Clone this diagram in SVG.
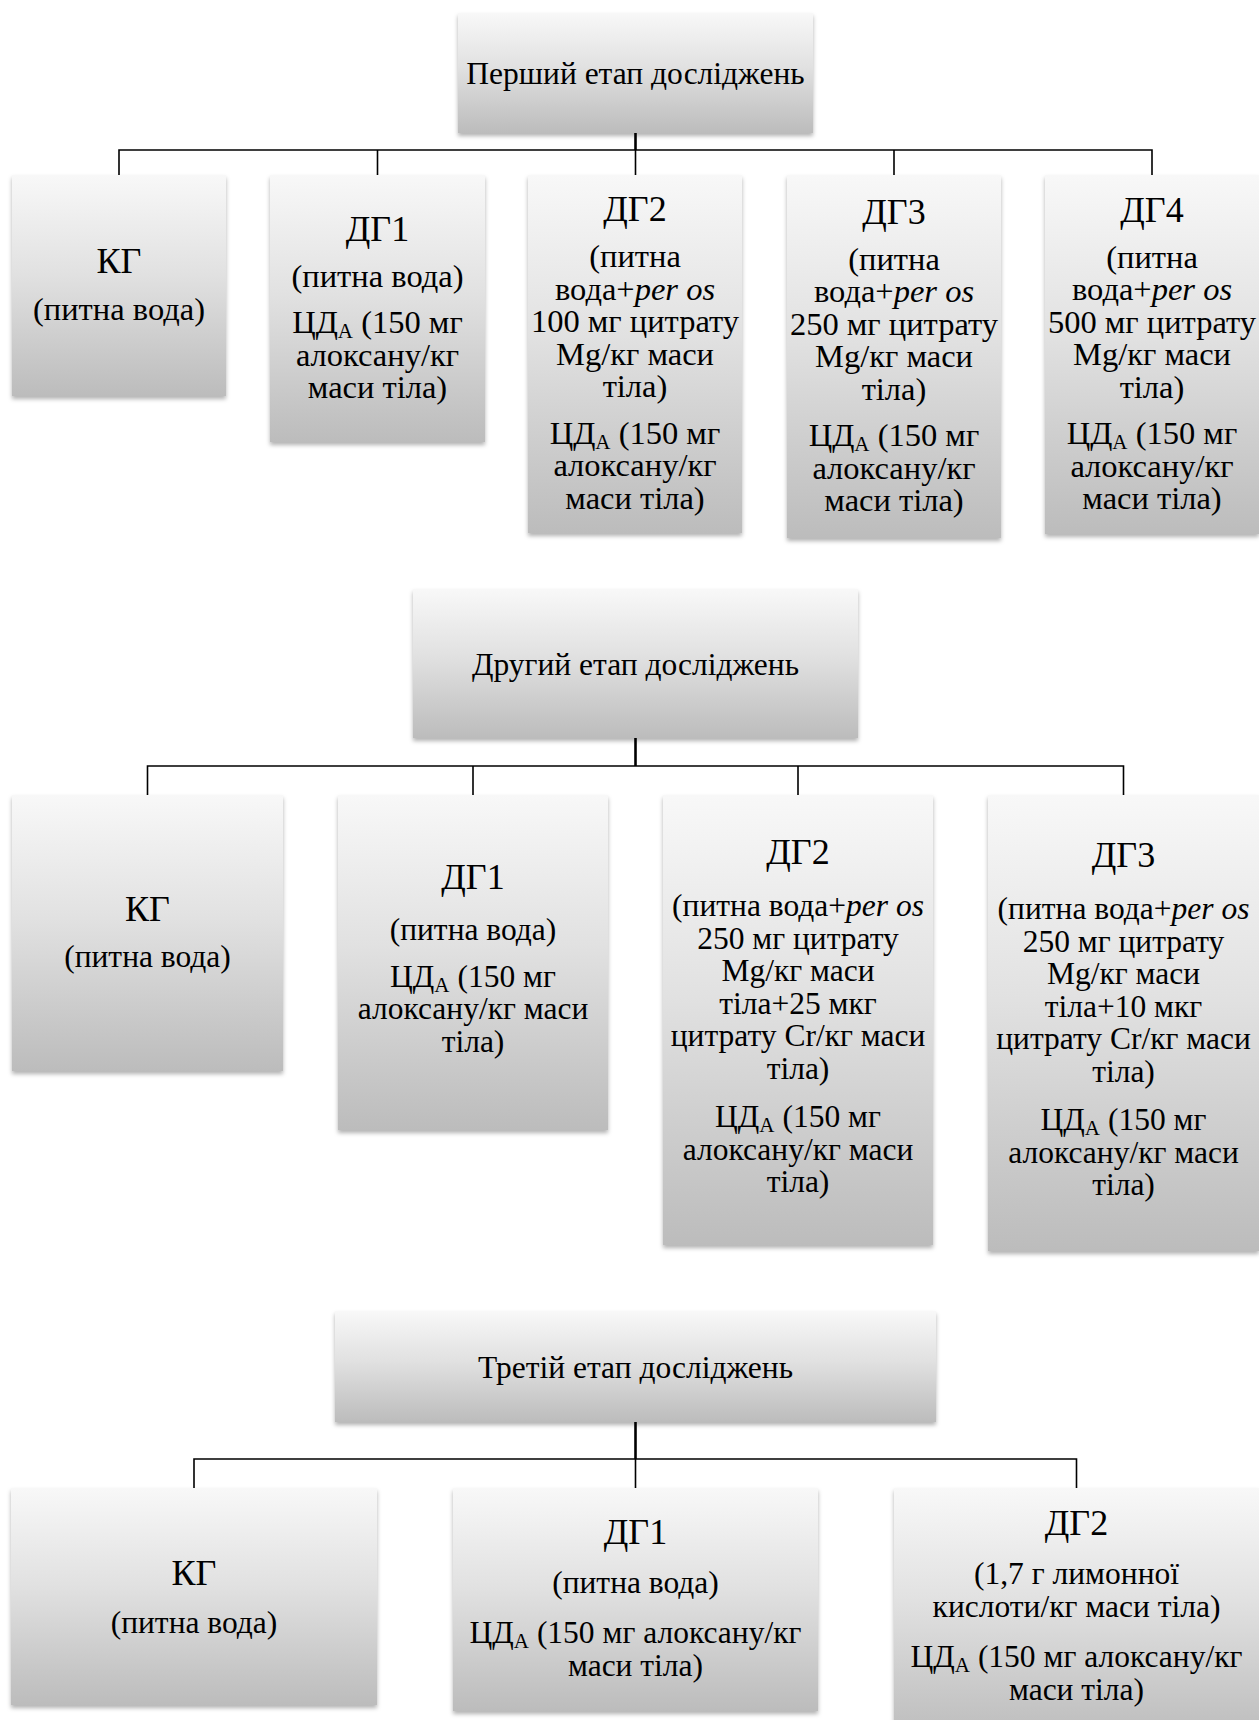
<svg xmlns="http://www.w3.org/2000/svg" width="1259" height="1720" viewBox="0 0 1259 1720">
<defs>
<linearGradient id="g" x1="0" y1="0" x2="0" y2="1">
<stop offset="0" stop-color="#f8f8f8"/>
<stop offset="0.45" stop-color="#e1e1e1"/>
<stop offset="1" stop-color="#bcbcbc"/>
</linearGradient>
<filter id="sh" x="-5%" y="-5%" width="110%" height="115%">
<feDropShadow dx="0" dy="3" stdDeviation="2.2" flood-color="#000" flood-opacity="0.3"/>
</filter>
</defs>
<style>
.box{fill:url(#g);filter:url(#sh)}
.t{font-family:"Liberation Serif","Times New Roman",serif;font-size:31.5px;text-anchor:middle;fill:#000}
.s1{font-size:32.5px}
.h{font-size:36px}
.i{font-style:italic}
.sub{font-size:21px}
.ln{stroke:#000;stroke-width:1.6;fill:none}
.stem{stroke:#000;stroke-width:2.6;fill:none}
</style>
<rect width="1259" height="1720" fill="#fff"/>

<g id="connectors">
<line class="stem" x1="635.5" y1="133" x2="635.5" y2="150"/>
<path class="ln" d="M119 175V150H1152V175M377.5 150V175M635.5 150V175M894 150V175"/>
<line class="stem" x1="635.5" y1="738" x2="635.5" y2="766"/>
<path class="ln" d="M147.5 795V766H1123.5V795M473 766V795M798 766V795"/>
<line class="stem" x1="635.5" y1="1422" x2="635.5" y2="1459"/>
<path class="ln" d="M194 1488V1459H1076.5V1488M635.5 1459V1488"/>
</g>

<!-- Section 1 -->
<g id="s1-top">
<rect class="box" x="458" y="13" width="355" height="120"/>
<text class="t" x="635.5" y="84">Перший етап досліджень</text>
</g>
<g id="s1-kg">
<rect class="box" x="12" y="175" width="214" height="221"/>
<text class="t h" x="119" y="273">КГ</text>
<text class="t s1" x="119" y="320">(питна вода)</text>
</g>
<g id="s1-dg1">
<rect class="box" x="270" y="175" width="215" height="267"/>
<text class="t h" x="377.5" y="241">ДГ1</text>
<text class="t s1" x="377.5" y="286.5">(питна вода)</text>
<text class="t s1" x="377.5" y="333">ЦД<tspan class="sub" dy="5">А</tspan><tspan dy="-5"> (150 мг</tspan></text>
<text class="t s1" x="377.5" y="365.5">алоксану/кг</text>
<text class="t s1" x="377.5" y="398">маси тіла)</text>
</g>
<g id="s1-dg2">
<rect class="box" x="528" y="175" width="214" height="358"/>
<text class="t h" x="635" y="221">ДГ2</text>
<text class="t s1" x="635" y="267">(питна</text>
<text class="t s1" x="635" y="299.5">вода+<tspan class="i">per os</tspan></text>
<text class="t s1" x="635" y="332">100 мг цитрату</text>
<text class="t s1" x="635" y="364.5">Mg/кг маси</text>
<text class="t s1" x="635" y="397">тіла)</text>
<text class="t s1" x="635" y="443.5">ЦД<tspan class="sub" dy="5">А</tspan><tspan dy="-5"> (150 мг</tspan></text>
<text class="t s1" x="635" y="476">алоксану/кг</text>
<text class="t s1" x="635" y="508.5">маси тіла)</text>
</g>
<g id="s1-dg3">
<rect class="box" x="787" y="175" width="214" height="363"/>
<text class="t h" x="894" y="223.5">ДГ3</text>
<text class="t s1" x="894" y="269.5">(питна</text>
<text class="t s1" x="894" y="302">вода+<tspan class="i">per os</tspan></text>
<text class="t s1" x="894" y="334.5">250 мг цитрату</text>
<text class="t s1" x="894" y="367">Mg/кг маси</text>
<text class="t s1" x="894" y="399.5">тіла)</text>
<text class="t s1" x="894" y="446">ЦД<tspan class="sub" dy="5">А</tspan><tspan dy="-5"> (150 мг</tspan></text>
<text class="t s1" x="894" y="478.5">алоксану/кг</text>
<text class="t s1" x="894" y="511">маси тіла)</text>
</g>
<g id="s1-dg4">
<rect class="box" x="1045" y="175" width="214" height="359"/>
<text class="t h" x="1152" y="221.5">ДГ4</text>
<text class="t s1" x="1152" y="267.5">(питна</text>
<text class="t s1" x="1152" y="300">вода+<tspan class="i">per os</tspan></text>
<text class="t s1" x="1152" y="332.5">500 мг цитрату</text>
<text class="t s1" x="1152" y="365">Mg/кг маси</text>
<text class="t s1" x="1152" y="397.5">тіла)</text>
<text class="t s1" x="1152" y="444">ЦД<tspan class="sub" dy="5">А</tspan><tspan dy="-5"> (150 мг</tspan></text>
<text class="t s1" x="1152" y="476.5">алоксану/кг</text>
<text class="t s1" x="1152" y="509">маси тіла)</text>
</g>

<!-- Section 2 -->
<g id="s2-top">
<rect class="box" x="413" y="589" width="445" height="149"/>
<text class="t" x="635.5" y="675">Другий етап досліджень</text>
</g>
<g id="s2-kg">
<rect class="box" x="12" y="795" width="271" height="276"/>
<text class="t h" x="147.5" y="920.5">КГ</text>
<text class="t" x="147.5" y="966.5">(питна вода)</text>
</g>
<g id="s2-dg1">
<rect class="box" x="338" y="795" width="270" height="335"/>
<text class="t h" x="473" y="889">ДГ1</text>
<text class="t" x="473" y="940">(питна вода)</text>
<text class="t" x="473" y="986.5">ЦД<tspan class="sub" dy="5">А</tspan><tspan dy="-5"> (150 мг</tspan></text>
<text class="t" x="473" y="1019">алоксану/кг маси</text>
<text class="t" x="473" y="1051.5">тіла)</text>
</g>
<g id="s2-dg2">
<rect class="box" x="663" y="795" width="270" height="450"/>
<text class="t h" x="798" y="864">ДГ2</text>
<text class="t" x="798" y="916.25">(питна вода+<tspan class="i">per os</tspan></text>
<text class="t" x="798" y="948.75">250 мг цитрату</text>
<text class="t" x="798" y="981.25">Mg/кг маси</text>
<text class="t" x="798" y="1013.75">тіла+25 мкг</text>
<text class="t" x="798" y="1046.25">цитрату Cr/кг маси</text>
<text class="t" x="798" y="1078.75">тіла)</text>
<text class="t" x="798" y="1127">ЦД<tspan class="sub" dy="5">А</tspan><tspan dy="-5"> (150 мг</tspan></text>
<text class="t" x="798" y="1159.5">алоксану/кг маси</text>
<text class="t" x="798" y="1192">тіла)</text>
</g>
<g id="s2-dg3">
<rect class="box" x="988" y="795" width="271" height="456"/>
<text class="t h" x="1123.5" y="867">ДГ3</text>
<text class="t" x="1123.5" y="919.25">(питна вода+<tspan class="i">per os</tspan></text>
<text class="t" x="1123.5" y="951.75">250 мг цитрату</text>
<text class="t" x="1123.5" y="984.25">Mg/кг маси</text>
<text class="t" x="1123.5" y="1016.75">тіла+10 мкг</text>
<text class="t" x="1123.5" y="1049.25">цитрату Cr/кг маси</text>
<text class="t" x="1123.5" y="1081.75">тіла)</text>
<text class="t" x="1123.5" y="1130">ЦД<tspan class="sub" dy="5">А</tspan><tspan dy="-5"> (150 мг</tspan></text>
<text class="t" x="1123.5" y="1162.5">алоксану/кг маси</text>
<text class="t" x="1123.5" y="1195">тіла)</text>
</g>

<!-- Section 3 -->
<g id="s3-top">
<rect class="box" x="335" y="1311" width="601" height="111"/>
<text class="t" x="635.5" y="1378">Третій етап досліджень</text>
</g>
<g id="s3-kg">
<rect class="box" x="11" y="1488" width="366" height="217"/>
<text class="t h" x="194" y="1585">КГ</text>
<text class="t" x="194" y="1632.5">(питна вода)</text>
</g>
<g id="s3-dg1">
<rect class="box" x="453" y="1488" width="365" height="223"/>
<text class="t h" x="635.5" y="1544">ДГ1</text>
<text class="t" x="635.5" y="1593">(питна вода)</text>
<text class="t" x="635.5" y="1643">ЦД<tspan class="sub" dy="5">А</tspan><tspan dy="-5"> (150 мг алоксану/кг</tspan></text>
<text class="t" x="635.5" y="1676">маси тіла)</text>
</g>
<g id="s3-dg2">
<rect class="box" x="894" y="1488" width="365" height="250"/>
<text class="t h" x="1076.5" y="1534.5">ДГ2</text>
<text class="t" x="1076.5" y="1583.5">(1,7 г лимонної</text>
<text class="t" x="1076.5" y="1616.5">кислоти/кг маси тіла)</text>
<text class="t" x="1076.5" y="1666.5">ЦД<tspan class="sub" dy="5">А</tspan><tspan dy="-5"> (150 мг алоксану/кг</tspan></text>
<text class="t" x="1076.5" y="1699.5">маси тіла)</text>
</g>
</svg>
